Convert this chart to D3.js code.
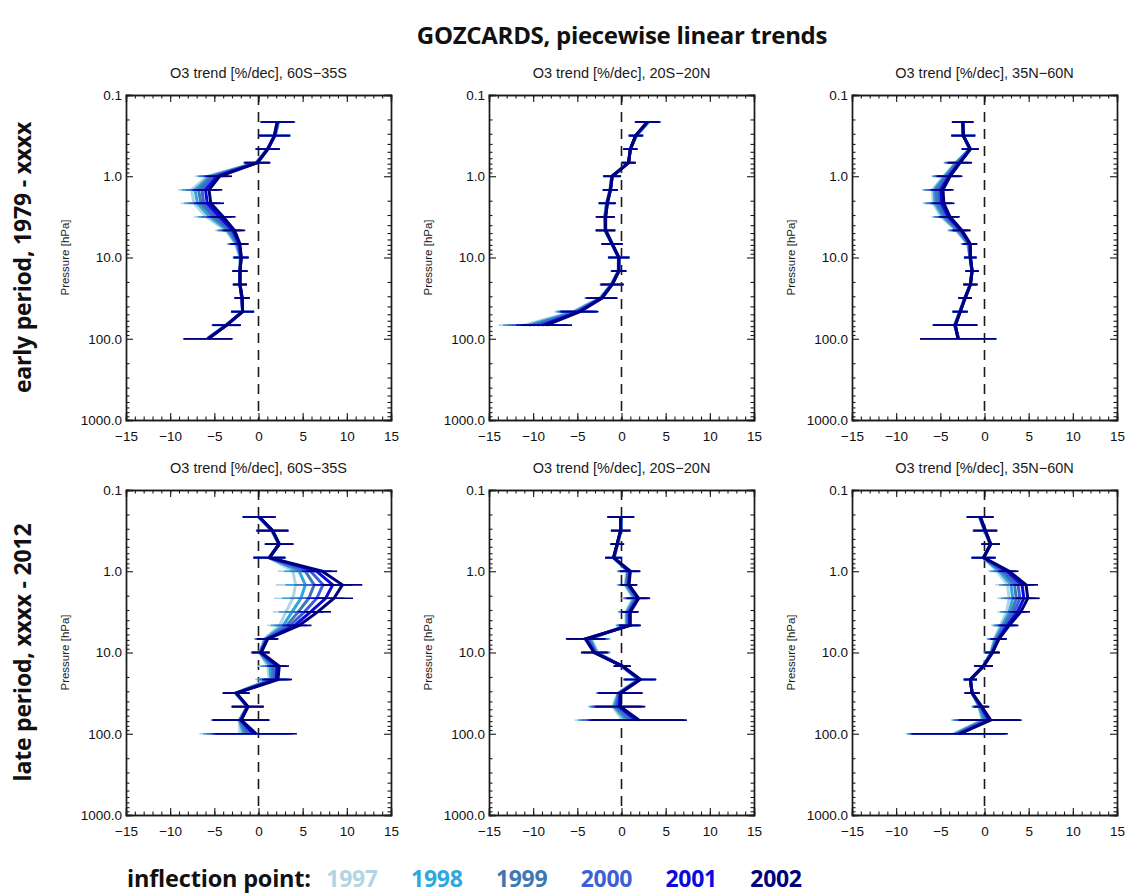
<!DOCTYPE html>
<html>
<head>
<meta charset="utf-8">
<script src="https://cdn.jsdelivr.net/npm/d3@7"></script>
<style>
  body { margin: 0; background: #fff; }
  svg text { font-family: "Liberation Sans", Arial, sans-serif; }
</style>
</head>
<body>
<svg id="chart" width="1125" height="896"></svg>
<script>
// ---------- data ----------
// GOZCARDS pressure levels (hPa), 6 per decade
const levels = [0.215, 0.316, 0.464, 0.681, 1.0, 1.47, 2.15, 3.16, 4.64, 6.81, 10.0, 14.7, 21.5, 31.6, 46.4, 68.1, 100.0];

const years = ['1997', '1998', '1999', '2000', '2001', '2002'];
const yearColors = ['#b3d5e3', '#2ea7df', '#3f78b1', '#3d5fd8', '#0a0ade', '#00007c'];

const regions = ['60S\u221235S', '20S\u221220N', '35N\u221260N'];
const periods = ['early period, 1979 - xxxx', 'late period, xxxx - 2012'];
const xTicks = [-15, -10, -5, 0, 5, 10, 15];
const yTicks = [0.1, 1, 10, 100, 1000];

// early period, 60S-35S (rows = 1997..2002)
const earlySouth = [
  [2.3, 1.9, 1.0, -0.3, -5.8, -7.6, -7.3, -5.9, -3.7, -2.6, -2.1, -2.1, -2.1, -1.9, -1.8, -3.7, -5.8],
  [2.25, 1.9, 1.0, -0.25, -5.5, -7.2, -6.9, -5.5, -3.5, -2.5, -2.05, -2.1, -2.1, -1.9, -1.8, -3.7, -5.8],
  [2.2, 1.85, 1.0, -0.2, -5.3, -6.8, -6.5, -5.1, -3.3, -2.4, -2.0, -2.1, -2.1, -1.9, -1.8, -3.65, -5.75],
  [2.2, 1.85, 1.05, -0.2, -5.0, -6.4, -6.2, -4.8, -3.1, -2.3, -2.0, -2.1, -2.1, -1.85, -1.8, -3.65, -5.75],
  [2.15, 1.8, 1.05, -0.15, -4.7, -6.0, -5.8, -4.4, -2.9, -2.2, -1.95, -2.1, -2.1, -1.85, -1.8, -3.6, -5.7],
  [2.1, 1.8, 1.05, -0.1, -4.4, -5.6, -5.4, -4.0, -2.7, -2.1, -1.95, -2.1, -2.1, -1.85, -1.8, -3.6, -5.7]
];
const earlySouthErr = [1.9, 1.75, 1.35, 1.45, 1.4, 1.5, 1.5, 1.4, 1.2, 1.0, 0.85, 0.85, 0.8, 0.85, 1.3, 1.6, 2.75];

// early period, 20S-20N
const earlyTropics = [
  [3.1, 1.7, 1.0, 0.8, -1.1, -1.3, -1.7, -1.9, -1.9, -1.1, -0.35, -0.4, -1.2, -2.5, -5.5, -11.0, null],
  [3.05, 1.7, 1.0, 0.8, -1.1, -1.3, -1.7, -1.9, -1.85, -1.1, -0.35, -0.35, -1.15, -2.4, -5.3, -10.5, null],
  [3.0, 1.65, 1.0, 0.8, -1.1, -1.3, -1.65, -1.85, -1.85, -1.1, -0.3, -0.35, -1.1, -2.35, -5.1, -10.0, null],
  [3.0, 1.65, 1.0, 0.8, -1.05, -1.25, -1.65, -1.85, -1.8, -1.05, -0.3, -0.3, -1.1, -2.3, -5.0, -9.5, null],
  [2.95, 1.6, 1.0, 0.8, -1.05, -1.25, -1.6, -1.8, -1.8, -1.05, -0.3, -0.3, -1.05, -2.25, -4.85, -9.0, null],
  [2.9, 1.6, 1.0, 0.8, -1.05, -1.25, -1.6, -1.8, -1.8, -1.05, -0.3, -0.3, -1.05, -2.2, -4.7, -8.5, null]
];
const earlyTropicsErr = [1.4, 0.8, 0.8, 0.8, 1.0, 0.85, 0.95, 1.05, 1.1, 1.2, 1.2, 0.85, 1.3, 1.75, 2.1, 2.9, null];

// early period, 35N-60N
const earlyNorth = [
  [-2.5, -2.4, -1.7, -3.3, -4.6, -5.9, -5.8, -4.9, -3.2, -1.9, -1.65, -1.45, -1.6, -2.25, -2.8, -3.4, -2.9],
  [-2.5, -2.4, -1.7, -3.2, -4.5, -5.7, -5.6, -4.7, -3.1, -1.85, -1.65, -1.45, -1.6, -2.25, -2.8, -3.4, -2.9],
  [-2.5, -2.4, -1.65, -3.1, -4.35, -5.5, -5.35, -4.5, -2.95, -1.8, -1.6, -1.4, -1.6, -2.2, -2.8, -3.35, -2.95],
  [-2.45, -2.4, -1.65, -3.0, -4.2, -5.2, -5.1, -4.3, -2.8, -1.7, -1.6, -1.4, -1.6, -2.2, -2.75, -3.35, -2.95],
  [-2.45, -2.4, -1.6, -2.85, -4.05, -4.95, -4.85, -4.1, -2.65, -1.65, -1.6, -1.4, -1.6, -2.2, -2.75, -3.3, -3.0],
  [-2.45, -2.4, -1.6, -2.75, -3.9, -4.7, -4.6, -3.9, -2.55, -1.6, -1.6, -1.4, -1.6, -2.2, -2.75, -3.3, -3.0]
];
const earlyNorthErr = [1.2, 1.35, 0.95, 1.35, 1.4, 1.2, 1.2, 1.1, 1.0, 0.8, 0.7, 0.75, 0.8, 0.75, 0.85, 2.5, 4.3];

// late period, 60S-35S
const lateSouth = [
  [0.0, 1.5, 2.3, 1.2, 3.9, 4.2, 3.9, 3.1, 2.4, 0.7, 0.1, 1.05, 1.2, -2.6, -1.3, -2.2, -2.1],
  [0.0, 1.5, 2.3, 1.2, 4.6, 5.3, 4.8, 3.8, 2.8, 0.75, 0.15, 1.3, 1.4, -2.6, -1.3, -2.15, -1.7],
  [0.05, 1.55, 2.3, 1.2, 5.3, 6.3, 5.7, 4.5, 3.2, 0.85, 0.2, 1.6, 1.6, -2.55, -1.25, -2.1, -1.35],
  [0.05, 1.55, 2.35, 1.25, 5.9, 7.3, 6.6, 5.2, 3.6, 0.9, 0.2, 1.85, 1.8, -2.55, -1.25, -2.05, -1.0],
  [0.1, 1.6, 2.35, 1.25, 6.6, 8.4, 7.6, 5.9, 4.1, 1.0, 0.25, 2.1, 2.0, -2.5, -1.2, -2.0, -0.6],
  [0.1, 1.6, 2.35, 1.25, 7.2, 9.5, 8.55, 6.7, 4.6, 1.05, 0.3, 2.35, 2.2, -2.5, -1.2, -1.95, -0.25]
];
const lateSouthErr = [1.85, 1.8, 1.6, 1.8, 1.7, 2.25, 2.15, 1.5, 1.4, 1.2, 1.0, 1.1, 1.6, 1.5, 1.8, 3.2, 4.6];

// late period, 20S-20N
const lateTropics = [
  [0.0, -0.05, -0.4, -0.8, 0.6, 0.4, 1.3, 0.5, 0.5, -3.4, -2.7, 0.0, 1.9, -0.4, -1.0, 0.1, null],
  [0.0, -0.05, -0.45, -0.85, 0.7, 0.5, 1.45, 0.6, 0.6, -3.55, -2.8, 0.0, 1.95, -0.35, -0.85, 0.5, null],
  [-0.05, -0.1, -0.45, -0.85, 0.75, 0.6, 1.6, 0.7, 0.7, -3.7, -2.9, 0.05, 2.0, -0.3, -0.65, 0.9, null],
  [-0.05, -0.1, -0.5, -0.9, 0.85, 0.7, 1.7, 0.8, 0.8, -3.85, -2.95, 0.05, 2.05, -0.25, -0.5, 1.3, null],
  [-0.1, -0.1, -0.5, -0.9, 0.95, 0.8, 1.85, 0.9, 0.9, -4.0, -3.05, 0.1, 2.1, -0.15, -0.3, 1.65, null],
  [-0.1, -0.1, -0.5, -0.9, 1.0, 0.85, 1.95, 1.0, 1.0, -4.1, -3.1, 0.1, 2.15, -0.1, -0.1, 2.0, null]
];
const lateTropicsErr = [1.5, 1.1, 0.75, 0.95, 1.15, 0.95, 1.3, 0.95, 1.2, 2.2, 1.5, 0.95, 1.8, 2.5, 2.8, 5.4, null];

// late period, 35N-60N
const lateNorth = [
  [-0.6, 0.0, 0.65, -0.15, 1.45, 2.6, 2.8, 2.5, 1.8, 1.1, 0.7, -0.15, -1.6, -1.4, -0.65, -0.3, -3.5],
  [-0.55, 0.0, 0.65, -0.15, 1.7, 3.0, 3.2, 2.8, 2.0, 1.2, 0.75, -0.15, -1.6, -1.4, -0.6, -0.1, -3.35],
  [-0.55, 0.05, 0.7, -0.1, 2.0, 3.4, 3.6, 3.1, 2.2, 1.35, 0.8, -0.1, -1.6, -1.4, -0.5, 0.1, -3.2],
  [-0.5, 0.05, 0.7, -0.1, 2.25, 3.8, 4.0, 3.4, 2.4, 1.45, 0.85, -0.1, -1.6, -1.4, -0.45, 0.3, -3.05],
  [-0.5, 0.1, 0.7, -0.1, 2.55, 4.25, 4.45, 3.75, 2.6, 1.55, 0.9, -0.1, -1.6, -1.4, -0.35, 0.5, -2.9],
  [-0.45, 0.1, 0.7, -0.1, 2.8, 4.7, 4.9, 4.1, 2.8, 1.65, 0.9, -0.1, -1.6, -1.4, -0.3, 0.7, -2.75]
];
const lateNorthErr = [1.5, 1.35, 1.05, 1.35, 1.05, 1.35, 1.35, 1.05, 1.05, 0.9, 0.85, 1.05, 0.75, 0.85, 0.85, 3.5, 5.4];

const panels = [
  { row: 0, col: 0, trend: earlySouth, err: earlySouthErr },
  { row: 0, col: 1, trend: earlyTropics, err: earlyTropicsErr },
  { row: 0, col: 2, trend: earlyNorth, err: earlyNorthErr },
  { row: 1, col: 0, trend: lateSouth, err: lateSouthErr },
  { row: 1, col: 1, trend: lateTropics, err: lateTropicsErr },
  { row: 1, col: 2, trend: lateNorth, err: lateNorthErr }
];

// ---------- layout ----------
const pw = 265, ph = 325;
const colX = [126, 489, 852];
const rowY = [95, 490];
const ink = '#1a1a1a';

const svg = d3.select('#chart');

const x = d3.scaleLinear().domain([-15, 15]).range([0, pw]);
const y = d3.scaleLog().domain([0.1, 1000]).range([0, ph]);

const minorX = d3.range(-15, 16, 1);
const minorY = [];
yTicks.slice(0, -1).forEach(d => { for (let k = 2; k <= 9; k++) minorY.push(d * k); });

const fmtX = d => d < 0 ? '\u2212' + Math.abs(d) : String(d);

svg.append('text')
  .attr('x', 622).attr('y', 44)
  .attr('text-anchor', 'middle')
  .style('font-family', '"Open Sans", sans-serif')
  .style('font-weight', 700)
  .style('font-size', '24px')
  .style('letter-spacing', '-0.3px')
  .attr('fill', '#111')
  .text('GOZCARDS, piecewise linear trends');

// row labels
periods.forEach((label, r) => {
  svg.append('text')
    .attr('transform', `translate(31,${rowY[r] + ph / 2}) rotate(-90)`)
    .attr('text-anchor', 'middle')
    .style('font-family', '"Open Sans", sans-serif')
    .style('font-weight', 700)
    .style('font-size', '23px')
    .style('letter-spacing', '-0.2px')
    .attr('fill', '#111')
    .text(label);
});

panels.forEach(p => {
  const g = svg.append('g').attr('transform', `translate(${colX[p.col]},${rowY[p.row]})`);

  g.append('text')
    .attr('x', pw / 2).attr('y', -17)
    .attr('text-anchor', 'middle')
    .style('font-size', '14.5px')
    .attr('fill', ink)
    .text('O3 trend [%/dec], ' + regions[p.col]);

  g.append('text')
    .attr('transform', `translate(-57,${ph / 2}) rotate(-90)`)
    .attr('text-anchor', 'middle')
    .style('font-size', '11.5px')
    .attr('fill', ink)
    .text('Pressure [hPa]');

  // zero line
  g.append('line')
    .attr('x1', x(0)).attr('x2', x(0))
    .attr('y1', 0).attr('y2', ph)
    .attr('stroke', ink)
    .attr('stroke-width', 1.6)
    .attr('stroke-dasharray', '10,7');

  const line = d3.line()
    .defined(d => d.v != null)
    .x(d => x(d.v))
    .y(d => y(d.p));

  p.trend.forEach((vals, i) => {
    const pts = levels.map((lev, j) => ({ p: lev, v: vals[j], e: p.err[j] }));
    const ok = pts.filter(d => d.v != null);

    g.append('g')
      .selectAll('line')
      .data(ok)
      .join('line')
      .attr('x1', d => x(d.v - d.e))
      .attr('x2', d => x(d.v + d.e))
      .attr('y1', d => y(d.p))
      .attr('y2', d => y(d.p))
      .attr('stroke', yearColors[i])
      .attr('stroke-width', 1.7);

    g.append('path')
      .datum(pts)
      .attr('d', line)
      .attr('fill', 'none')
      .attr('stroke', yearColors[i])
      .attr('stroke-width', 3)
      .attr('stroke-linejoin', 'miter');
  });

  // axes: ticks point inward, IDL style
  g.append('g').attr('transform', `translate(0,${ph})`)
    .call(d3.axisBottom(x).tickValues(xTicks).tickSize(-7).tickPadding(11).tickFormat(fmtX));
  g.append('g').attr('transform', `translate(0,${ph})`)
    .call(d3.axisBottom(x).tickValues(minorX).tickSize(-3.5).tickFormat(''));
  g.append('g')
    .call(d3.axisTop(x).tickValues(xTicks).tickSize(-7).tickFormat(''));
  g.append('g')
    .call(d3.axisTop(x).tickValues(minorX).tickSize(-3.5).tickFormat(''));

  g.append('g')
    .call(d3.axisLeft(y).tickValues(yTicks).tickSize(-7).tickPadding(4).tickFormat(d3.format('.1f')));
  g.append('g')
    .call(d3.axisLeft(y).tickValues(minorY).tickSize(-3.5).tickFormat(''));
  g.append('g').attr('transform', `translate(${pw},0)`)
    .call(d3.axisRight(y).tickValues(yTicks).tickSize(-7).tickFormat(''));
  g.append('g').attr('transform', `translate(${pw},0)`)
    .call(d3.axisRight(y).tickValues(minorY).tickSize(-3.5).tickFormat(''));

  g.selectAll('.domain').attr('stroke', ink).attr('stroke-width', 1.4);
  g.selectAll('.tick line').attr('stroke', ink).attr('stroke-width', 1.1);
  g.selectAll('.tick text')
    .attr('fill', '#111')
    .style('font-size', '13.5px')
    .style('font-family', '"Liberation Sans", Arial, sans-serif');
});

// legend
const legendX = d3.scalePoint().domain(years).range([352, 776]);
svg.append('text')
  .attr('x', 127).attr('y', 887)
  .style('font-family', '"Open Sans", sans-serif')
  .style('font-weight', 700)
  .style('font-size', '23.5px')
  .style('letter-spacing', '-0.2px')
  .attr('fill', '#111')
  .text('inflection point:');

svg.append('g')
  .selectAll('text')
  .data(years)
  .join('text')
  .attr('x', d => legendX(d))
  .attr('y', 887)
  .attr('text-anchor', 'middle')
  .style('font-family', '"Open Sans", sans-serif')
  .style('font-weight', 700)
  .style('font-size', '23px')
  .style('letter-spacing', '-0.3px')
  .attr('fill', (d, i) => yearColors[i])
  .text(d => d);
</script>
</body>
</html>
